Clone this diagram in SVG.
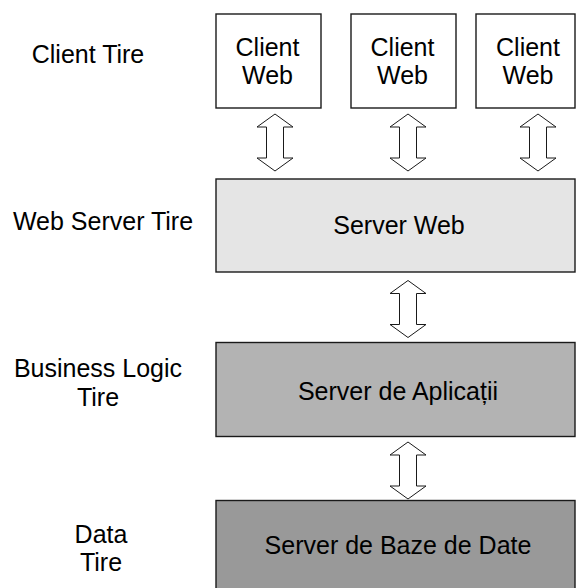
<svg xmlns="http://www.w3.org/2000/svg" width="576" height="588" viewBox="0 0 576 588">
  <style>
    .lbl { font-family: "Liberation Sans", Arial, sans-serif; font-size: 25px; fill: #000; text-anchor: middle; }
    .box { stroke: #1a1a1a; stroke-width: 1.4; }
    .arrow { fill: #fff; stroke: #1a1a1a; stroke-width: 1; stroke-linejoin: miter; }
  </style>
  <defs>
    <!-- hollow double-headed arrow centred on (0,0) -->
    <polygon id="dbl" class="arrow" points="0,-28.5 18,-15.5 8.5,-15.5 8.5,15.5 18,15.5 0,28.5 -18,15.5 -8.5,15.5 -8.5,-15.5 -18,-15.5"/>
  </defs>
  <rect width="576" height="588" fill="#fff"/>

  <!-- tier labels -->
  <g id="tier-labels">
    <text class="lbl" x="88" y="63">Client Tire</text>
    <text class="lbl" x="103" y="230">Web Server Tire</text>
    <text class="lbl" x="98" y="377">Business Logic</text>
    <text class="lbl" x="98" y="406">Tire</text>
    <text class="lbl" x="101" y="543">Data</text>
    <text class="lbl" x="101" y="571">Tire</text>
  </g>

  <!-- client tier -->
  <g id="client-web-1">
    <rect class="box" x="216" y="14" width="105" height="94" fill="#fff"/>
    <text class="lbl" x="267.5" y="56">Client</text>
    <text class="lbl" x="267.5" y="84">Web</text>
  </g>
  <g id="client-web-2">
    <rect class="box" x="351" y="14" width="105" height="94" fill="#fff"/>
    <text class="lbl" x="402.5" y="56">Client</text>
    <text class="lbl" x="402.5" y="84">Web</text>
  </g>
  <g id="client-web-3">
    <rect class="box" x="476" y="14" width="99" height="94" fill="#fff"/>
    <text class="lbl" x="528" y="56">Client</text>
    <text class="lbl" x="528" y="84">Web</text>
  </g>

  <!-- server tiers -->
  <g id="server-web">
    <rect class="box" x="216" y="179" width="359" height="93" fill="#e5e5e5"/>
    <text class="lbl" x="399" y="234">Server Web</text>
  </g>
  <g id="server-aplicatii">
    <rect class="box" x="216" y="342.5" width="359" height="94" fill="#b3b3b3"/>
    <text class="lbl" x="398" y="400">Server de Aplicații</text>
  </g>
  <g id="server-baze-date">
    <rect class="box" x="216" y="500.5" width="359" height="100" fill="#999999"/>
    <text class="lbl" x="398" y="554">Server de Baze de Date</text>
  </g>

  <!-- connectors -->
  <g id="connectors">
    <use href="#dbl" x="275" y="142.5"/>
    <use href="#dbl" x="408" y="142.5"/>
    <use href="#dbl" x="538" y="142.5"/>
    <use href="#dbl" x="408" y="309"/>
    <use href="#dbl" x="408" y="470.5"/>
  </g>
</svg>
